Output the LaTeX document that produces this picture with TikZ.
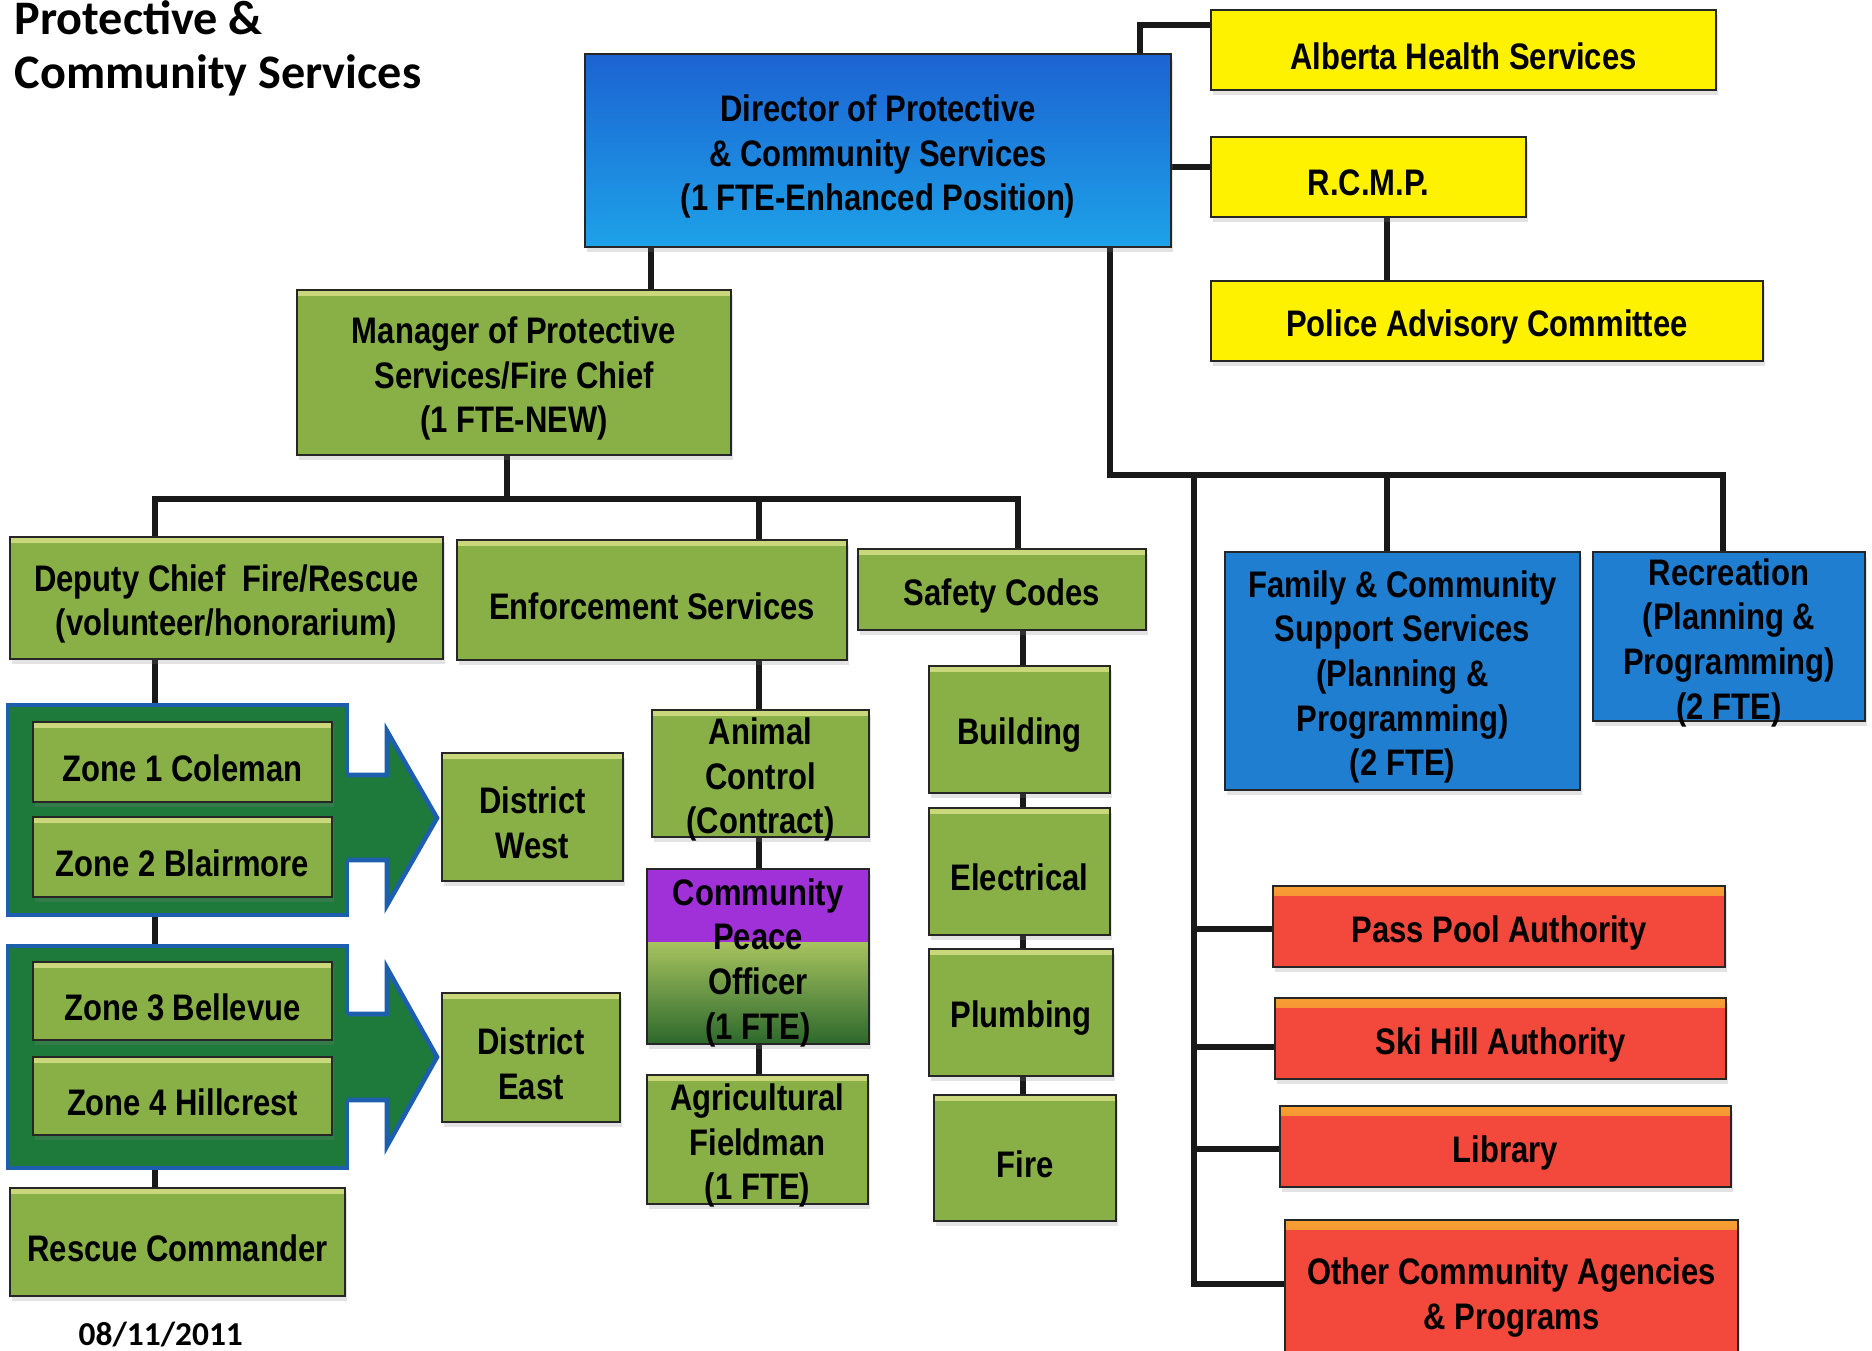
\documentclass[tikz,border=0pt]{standalone}
\usepackage{fontspec}
\newfontfamily\boxfont[FakeStretch=0.84]{Liberation Sans}
\newfontfamily\titlefont{Carlito}
\usetikzlibrary{shadows}
\pgfdeclarelayer{bg}
\pgfsetlayers{bg,main}
\definecolor{gfill}{HTML}{89AF47}
\definecolor{ghl}{HTML}{C9D779}
\definecolor{dirtop}{HTML}{1C63D2}
\definecolor{dirbot}{HTML}{1DA2E8}
\definecolor{bfill}{HTML}{1F7ED0}
\definecolor{yfill}{HTML}{FFF200}
\definecolor{rfill}{HTML}{F3493D}
\definecolor{rhl}{HTML}{F7A033}
\definecolor{zgreen}{HTML}{1E7A3A}
\definecolor{zblue}{HTML}{1D5FAE}
\definecolor{purp}{HTML}{A030D8}
\definecolor{cpotop}{HTML}{A6C25E}
\definecolor{cpobot}{HTML}{2C682C}
\tikzset{
  sz/.style 2 args={minimum width=#1*0.01cm, minimum height=#2*0.01cm},
  box/.style={draw=black!85, line width=0.8pt, inner sep=0pt,
    drop shadow={opacity=0.22, shadow xshift=0.6pt, shadow yshift=-1.5pt}},
  txt/.style={inner sep=0pt, align=center, yshift=-1.7pt,
    font=\boxfont\bfseries\fontsize{10.5}{12.7}\selectfont, text=black},
  tophl/.style={path picture={\shade[top color=#1, bottom color=#1!40!white] ([yshift=-0.4pt]path picture bounding box.north west) rectangle ([yshift=-1.6pt]path picture bounding box.north east);}},
  gbox/.style={box, fill=gfill, tophl=ghl},
  ybox/.style={box, fill=yfill},
  bbox/.style={box, fill=bfill},
  rbox/.style={box, fill=rfill, path picture={\shade[top color=rhl, bottom color=rfill] ([yshift=-0.4pt]path picture bounding box.north west) rectangle ([yshift=-2.6pt]path picture bounding box.north east);}},
  grp/.style={draw=zblue, line width=1.3pt, fill=zgreen, inner sep=0pt},
  conn/.style={line width=1.8pt, black!90, line join=miter},
}
\begin{document}
\begin{tikzpicture}[x=0.01cm, y=-0.01cm]
\useasboundingbox (0,0) rectangle (1872,1351);

% title and date
\node[anchor=base west, inner sep=0pt, font=\titlefont\bfseries\fontsize{13.7}{17}\selectfont] (t1) at (14,34) {Protective \&};
\node[anchor=base west, inner sep=0pt, font=\titlefont\bfseries\fontsize{13.7}{17}\selectfont] (t2) at (14,88) {Community Services};
\node[anchor=base west, inner sep=0pt, font=\titlefont\bfseries\fontsize{9.5}{11}\selectfont] (date) at (78,1345) {08/11/2011};

% boxes
\node[box, sz={586}{193}, top color=dirtop, bottom color=dirbot] (dir) at (878,150.5) {};
\node[ybox, sz={505}{80}] (ahs) at (1463.5,50) {};
\node[ybox, sz={315}{80}] (rcmp) at (1368.5,177) {};
\node[ybox, sz={552}{80}] (pac) at (1487,321) {};
\node[gbox, sz={434}{165}] (mgr) at (514,372.5) {};
\node[gbox, sz={433}{122}] (dep) at (226.5,598) {};
\node[gbox, sz={390}{120}] (enf) at (652,600) {};
\node[gbox, sz={288}{81}] (saf) at (1002,589.5) {};

% zone groups with arrows
\node[grp, sz={339}{210}] (grp1) at (177.5,810) {};
\fill[zgreen] (342,775) -- (387,775) -- (387,731) -- (437,818) -- (387,905) -- (387,860) -- (342,860) -- cycle;
\draw[zblue, line width=1.3pt, line join=miter] (347,775) -- (387,775) -- (387,731) -- (437,818) -- (387,905) -- (387,860) -- (347,860);
\node[grp, sz={339}{222}] (grp2) at (177.5,1057) {};
\fill[zgreen] (342,1014) -- (387,1014) -- (387,968) -- (437,1057) -- (387,1146) -- (387,1100) -- (342,1100) -- cycle;
\draw[zblue, line width=1.3pt, line join=miter] (347,1014) -- (387,1014) -- (387,968) -- (437,1057) -- (387,1146) -- (387,1100) -- (347,1100);
\node[gbox, sz={299}{80}] (z1) at (182.5,762) {};
\node[gbox, sz={299}{80}] (z2) at (182.5,857) {};
\node[gbox, sz={299}{78}] (z3) at (182.5,1001) {};
\node[gbox, sz={299}{78}] (z4) at (182.5,1096) {};
\node[gbox, sz={335}{108}] (resc) at (177.5,1242) {};
\node[gbox, sz={181}{128}] (dw) at (532.5,817) {};
\node[gbox, sz={178}{129}] (de) at (531,1057.5) {};

\node[gbox, sz={217}{127}] (ani) at (760.5,773.5) {};
\node[box, sz={222}{175}, path picture={
   \fill[purp] (path picture bounding box.north west) rectangle ([yshift=4pt]path picture bounding box.east);
   \shade[top color=cpotop, bottom color=cpobot] ([yshift=4pt]path picture bounding box.west) rectangle (path picture bounding box.south east);}]
   (cpo) at (758,956.5) {};
\node[gbox, sz={221}{129}] (agr) at (757.5,1139.5) {};

\node[gbox, sz={181}{127}] (bld) at (1019.5,729.5) {};
\node[gbox, sz={181}{127}] (ele) at (1019.5,871.5) {};
\node[gbox, sz={184}{127}] (plu) at (1021,1012.5) {};
\node[gbox, sz={182}{126}] (fir) at (1025,1158) {};

\node[bbox, sz={355}{238}] (fcss) at (1402.5,671) {};
\node[bbox, sz={272}{169}] (rec) at (1729,636.5) {};
\node[rbox, sz={452}{81}] (pool) at (1499,926.5) {};
\node[rbox, sz={451}{81}] (ski) at (1500.5,1038.5) {};
\node[rbox, sz={451}{81}] (lib) at (1505.5,1146.5) {};
\node[rbox, sz={453}{140}] (oth) at (1511.5,1290) {};

% texts
\node[txt] (dir-t) at (dir) {Director of Protective\\\& Community Services\\(1 FTE-Enhanced Position)};
\node[txt] (ahs-t) at (ahs) {Alberta Health Services};
\node[txt] (rcmp-t) at (rcmp) {R.C.M.P.};
\node[txt] (pac-t) at (pac) {Police Advisory Committee};
\node[txt] (mgr-t) at (mgr) {Manager of Protective\\Services/Fire Chief\\(1 FTE-NEW)};
\node[txt] (dep-t) at (dep) {Deputy Chief~ Fire/Rescue\\(volunteer/honorarium)};
\node[txt] (enf-t) at (enf) {Enforcement Services};
\node[txt] (saf-t) at (saf) {Safety Codes};
\node[txt] (z1-t) at (z1) {Zone 1 Coleman};
\node[txt] (z2-t) at (z2) {Zone 2 Blairmore};
\node[txt] (z3-t) at (z3) {Zone 3 Bellevue};
\node[txt] (z4-t) at (z4) {Zone 4 Hillcrest};
\node[txt] (resc-t) at (resc) {Rescue Commander};
\node[txt] (dw-t) at (dw) {District\\West};
\node[txt] (de-t) at (de) {District\\East};
\node[txt] (ani-t) at (ani) {Animal\\Control\\(Contract)};
\node[txt] (cpo-t) at (cpo) {Community\\Peace\\Officer\\(1 FTE)};
\node[txt] (agr-t) at (agr) {Agricultural\\Fieldman\\(1 FTE)};
\node[txt] (bld-t) at (bld) {Building};
\node[txt] (ele-t) at (ele) {Electrical};
\node[txt] (plu-t) at (plu) {Plumbing};
\node[txt] (fir-t) at (fir) {Fire};
\node[txt] (fcss-t) at (fcss) {Family \& Community\\Support Services\\(Planning \&\\Programming)\\(2 FTE)};
\node[txt] (rec-t) at (rec) {Recreation\\(Planning \&\\Programming)\\(2 FTE)};
\node[txt] (pool-t) at (pool) {Pass Pool Authority};
\node[txt] (ski-t) at (ski) {Ski Hill Authority};
\node[txt] (lib-t) at (lib) {Library};
\node[txt] (oth-t) at ([yshift=-0.5pt]oth) {Other Community Agencies\\\& Programs};

% connectors
\coordinate (j1) at (1140,25);
\coordinate (bar) at (507,499);
\coordinate (rbar) at (1110,475);
\coordinate (trunk) at (1194,475);
\begin{pgfonlayer}{bg}
\draw[conn] (dir.north -| j1) -- (j1) -- (ahs.west |- j1);
\draw[conn] (dir.east |- 0,167) -- (rcmp.west |- 0,167);
\draw[conn] (rcmp.south -| 1387,0) -- (pac.north -| 1387,0);
\draw[conn] (dir.south -| 651,0) -- (mgr.north -| 651,0);
\draw[conn] (mgr.south -| bar) -- (bar);
\draw[conn] (dep.north -| 155,0) -- (155,499) -- (1018,499) -- (saf.north -| 1018,0);
\draw[conn] (enf.north -| 759,0) -- (759,499);
\draw[conn] (dep.south -| 155,0) -- (grp1.north -| 155,0);
\draw[conn] (grp1.south -| 155,0) -- (grp2.north -| 155,0);
\draw[conn] (grp2.south -| 155,0) -- (resc.north -| 155,0);
\draw[conn] (enf.south -| 759,0) -- (ani.north -| 759,0);
\draw[conn] (ani.south -| 759,0) -- (cpo.north -| 759,0);
\draw[conn] (cpo.south -| 759,0) -- (agr.north -| 759,0);
\draw[conn] (saf.south -| 1023,0) -- (bld.north -| 1023,0);
\draw[conn] (bld.south -| 1023,0) -- (ele.north -| 1023,0);
\draw[conn] (ele.south -| 1023,0) -- (plu.north -| 1023,0);
\draw[conn] (plu.south -| 1023,0) -- (fir.north -| 1023,0);
\draw[conn] (dir.south -| rbar) -- (rbar) -- (1723,475) -- (rec.north -| 1723,0);
\draw[conn] (1387,475) -- (fcss.north -| 1387,0);
\draw[conn] (trunk) -- (1194,1284) -- (oth.west |- 0,1284);
\draw[conn] (1194,929) -- (pool.west |- 0,929);
\draw[conn] (1194,1047) -- (ski.west |- 0,1047);
\draw[conn] (1194,1149) -- (lib.west |- 0,1149);
\end{pgfonlayer}
\end{tikzpicture}
\end{document}
